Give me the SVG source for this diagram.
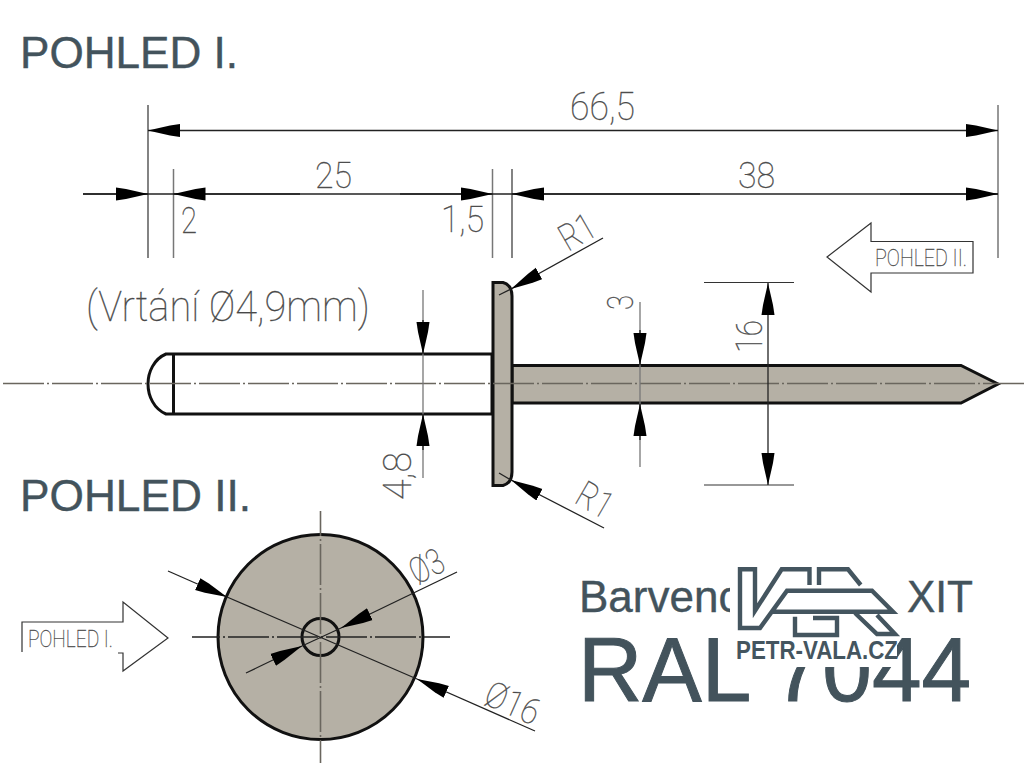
<svg xmlns="http://www.w3.org/2000/svg" width="1024" height="768" viewBox="0 0 1024 768">
<style>
.title{font-family:"Liberation Sans",Arial,sans-serif;fill:#43535c;stroke:#43535c;stroke-width:.4}
.cad{font-family:Roboto,"Liberation Sans",sans-serif;font-weight:100;fill:#444;stroke:#555;stroke-width:.3}
.dim{stroke:#222;stroke-width:1.3;fill:none}
.ext{stroke:#333;stroke-width:1.2;fill:none}
.soft{stroke:#777;stroke-width:1.5;fill:none}
.arr{marker-end:url(#a)}
.both{marker-start:url(#a);marker-end:url(#a)}
.body{stroke:#111;stroke-width:3;fill:#b5b0a5}
.center{stroke:#6a665e;stroke-width:1.6;fill:none;stroke-dasharray:41 3 2 3}
.logo{stroke:#44555f;stroke-width:4.4;fill:none;stroke-linejoin:miter}
.flag{stroke:#333;stroke-width:1.2;fill:#fff}
</style>
<defs>
<marker id="a" markerUnits="userSpaceOnUse" markerWidth="34" markerHeight="14" refX="32" refY="7" orient="auto-start-reverse"><path d="M0,0.5 L10,2 L32,7 L10,12 L0,13.500 Z" fill="#000"/></marker>
</defs>
<rect width="1024" height="768" fill="#fff"/>

<g id="title-1"><text class="title" x="20" y="68" font-size="43.500" textLength="218" lengthAdjust="spacingAndGlyphs">POHLED I.</text></g>
<g id="title-2"><text class="title" x="20" y="511" font-size="43.500" textLength="231" lengthAdjust="spacingAndGlyphs">POHLED II.</text></g>

<g id="rivet-side">
<path class="body" d="M166,354 H492 V414 H166 C154,409 148,396 148,384 C148,372 154,359 166,354 Z" style="fill:#fff"/>
<path class="body" d="M173.500,354 V414" fill="none"/>
<path class="body" d="M512,365.500 H961 L998,384 L961,403 H512 Z"/>
<path class="body" d="M493,282.500 H503 Q512,285 512,296 V472 Q512,483 503,485.500 H493 Z"/>
</g>

<g id="rivet-front">
<circle class="body" cx="320.500" cy="637" r="102.500"/>
<circle cx="320.500" cy="637" r="18.500" fill="none" stroke="#111" stroke-width="3"/>
</g>

<g id="connectors">
<path class="center" d="M0,383.500 H1024" stroke-dashoffset="-3"/>
<path class="center" d="M320.500,511 V763" stroke-dashoffset="16"/>
<path class="center" d="M192,637 H450" stroke-dashoffset="13" style="stroke:#222"/>

<path class="ext" d="M148,105 V258 M512,169 V258"/>
<path class="soft" d="M173.500,169 V258 M492.500,169 V258 M998,105 V258"/>
<path class="dim both" d="M148,130.500 H998"/>
<path class="dim" d="M83,194 H998"/>
<path class="dim arr" d="M83,194 H148"/>
<path class="dim arr" d="M300,194 H173.500"/>
<path class="dim arr" d="M400,194 H492.500"/>
<path class="dim arr" d="M700,194 H512"/>
<path class="dim arr" d="M900,194 H998"/>

<path class="soft" d="M423,290 V478" style="stroke-width:1.300"/>
<path class="dim arr" d="M423,320 V354"/>
<path class="dim arr" d="M423,450 V414"/>

<path class="soft" d="M640,302 V467" style="stroke-width:1.300"/>
<path class="dim arr" d="M640,330 V365"/>
<path class="dim arr" d="M640,440 V404"/>

<path class="ext" d="M704,282.500 H794 M704,485 H794"/>
<path class="dim both" d="M768,283 V485"/>

<path class="dim arr" d="M603,238 L511,289"/>
<path class="dim" d="M511,289 L499,295"/>
<path class="dim arr" d="M604,528 L511,480"/>
<path class="dim" d="M511,480 L499,473"/>

<path class="dim arr" d="M168,571 L227,597"/>
<path class="dim" d="M227,597 L417,679"/>
<path class="dim arr" d="M535,731 L417,679"/>
<path class="dim arr" d="M457,572 L341,628"/>
<path class="dim" d="M341,628 L302,646"/>
<path class="dim arr" d="M246,673 L302,646"/>
</g>

<g id="labels">
<text class="cad" x="570" y="120" font-size="38" textLength="65" lengthAdjust="spacingAndGlyphs">66,5</text>
<text class="cad" x="315" y="188" font-size="37" textLength="37" lengthAdjust="spacingAndGlyphs">25</text>
<text class="cad" x="738" y="188" font-size="37" textLength="37" lengthAdjust="spacingAndGlyphs">38</text>
<text class="cad" x="181" y="233" font-size="37" textLength="16" lengthAdjust="spacingAndGlyphs">2</text>
<text class="cad" x="441" y="232" font-size="37" textLength="43" lengthAdjust="spacingAndGlyphs">1,5</text>
<text class="cad" x="86" y="321" font-size="42" textLength="284" lengthAdjust="spacingAndGlyphs">(Vrtání Ø4,9mm)</text>
<text class="cad" font-size="38" transform="translate(411,500) rotate(-90)" textLength="48" lengthAdjust="spacingAndGlyphs">4,8</text>
<text class="cad" font-size="37" transform="translate(633,310) rotate(-90)" textLength="15" lengthAdjust="spacingAndGlyphs">3</text>
<text class="cad" font-size="37" transform="translate(762,353) rotate(-90)" textLength="33" lengthAdjust="spacingAndGlyphs">16</text>
<text class="cad" font-size="37" transform="translate(568,252) rotate(-30)" textLength="36" lengthAdjust="spacingAndGlyphs">R1</text>
<text class="cad" font-size="37" transform="translate(573,502) rotate(30)" textLength="36" lengthAdjust="spacingAndGlyphs">R1</text>
<text class="cad" font-size="36" transform="translate(417,585) rotate(-27)" textLength="34" lengthAdjust="spacingAndGlyphs">Ø3</text>
<text class="cad" font-size="36" transform="translate(482,703) rotate(24)" textLength="56" lengthAdjust="spacingAndGlyphs">Ø16</text>
</g>

<g id="view-arrow-2">
<path class="flag" d="M827,257 L871,223 V241.500 H973 V273 H871 V292 Z"/>
<text class="cad" x="875" y="266" font-size="24" textLength="92" lengthAdjust="spacingAndGlyphs">POHLED II.</text>
</g>
<g id="view-arrow-1">
<path class="flag" d="M22,652 V622 H123 V602 L168,638 L123,671 V653 H118" />
<text class="cad" x="28" y="647" font-size="24" textLength="85" lengthAdjust="spacingAndGlyphs">POHLED I.</text>
</g>

<g id="ral-text">
<text class="title" x="579" y="612" font-size="44">Barvenc</text>
<text class="title" x="907" y="612" font-size="44" textLength="66" lengthAdjust="spacingAndGlyphs">XIT</text>
<text class="title" x="578" y="701" font-size="90" textLength="393" lengthAdjust="spacingAndGlyphs" style="stroke-width:1">RAL 7044</text>
</g>

<g id="logo">
<rect x="730" y="555" width="176" height="58" fill="#fff"/>
<rect x="730" y="610" width="167" height="57" fill="#fff"/>
<path class="logo" d="M809.500,585 V569.300 H781.700 L755,610.700 V569.300 H740 V628 H760 L787,590.700 H872 L893,611.700 H773"/>
<path class="logo" d="M819,585 V569.300 H848 L860.700,585"/>
<path class="logo" d="M813,618 H837 V635 H795 V616.700"/>
<path class="logo" d="M855,613 L877,634 H895 L877,615"/>
<text x="736" y="659" font-family="Liberation Sans,sans-serif" font-weight="700" font-size="26" fill="#44555f" textLength="162" lengthAdjust="spacingAndGlyphs">PETR-VALA.CZ</text>
</g>
</svg>
